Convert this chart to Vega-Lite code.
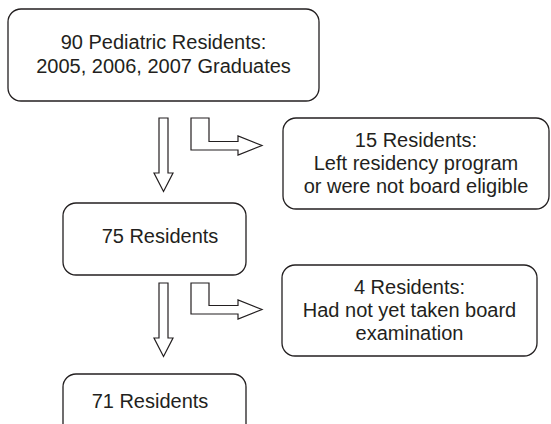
{
  "$schema": "https://vega.github.io/schema/vega-lite/v6.json",
  "width": 551,
  "height": 424,
  "padding": 0,
  "autosize": {"type": "fit", "contains": "padding"},
  "background": "white",
  "config": {"view": {"stroke": null}},
  "datasets": {
    "boxes": [
      {"box": "start", "x0": 8, "x1": 319, "y0": 9, "y1": 101},
      {"box": "excluded1", "x0": 283, "x1": 549, "y0": 118, "y1": 209},
      {"box": "middle", "x0": 63, "x1": 246, "y0": 203, "y1": 275},
      {"box": "excluded2", "x0": 282, "x1": 537, "y0": 265, "y1": 356},
      {"box": "final", "x0": 63, "x1": 246, "y0": 374, "y1": 440}
    ],
    "arrows": [
      {"arrow": "down1", "i": 1, "x": 159, "y": 118},
      {"arrow": "down1", "i": 2, "x": 168, "y": 118},
      {"arrow": "down1", "i": 3, "x": 168, "y": 173},
      {"arrow": "down1", "i": 4, "x": 173, "y": 173},
      {"arrow": "down1", "i": 5, "x": 163.5, "y": 191.5},
      {"arrow": "down1", "i": 6, "x": 154, "y": 173},
      {"arrow": "down1", "i": 7, "x": 159, "y": 173},
      {"arrow": "side1", "i": 1, "x": 191, "y": 118},
      {"arrow": "side1", "i": 2, "x": 209, "y": 118},
      {"arrow": "side1", "i": 3, "x": 209, "y": 141.5},
      {"arrow": "side1", "i": 4, "x": 238, "y": 141.5},
      {"arrow": "side1", "i": 5, "x": 238, "y": 136},
      {"arrow": "side1", "i": 6, "x": 262, "y": 145.5},
      {"arrow": "side1", "i": 7, "x": 238, "y": 155},
      {"arrow": "side1", "i": 8, "x": 238, "y": 150},
      {"arrow": "side1", "i": 9, "x": 191, "y": 150},
      {"arrow": "down2", "i": 1, "x": 159, "y": 283},
      {"arrow": "down2", "i": 2, "x": 168, "y": 283},
      {"arrow": "down2", "i": 3, "x": 168, "y": 338},
      {"arrow": "down2", "i": 4, "x": 173, "y": 338},
      {"arrow": "down2", "i": 5, "x": 163.5, "y": 356.5},
      {"arrow": "down2", "i": 6, "x": 154, "y": 338},
      {"arrow": "down2", "i": 7, "x": 159, "y": 338},
      {"arrow": "side2", "i": 1, "x": 191, "y": 283},
      {"arrow": "side2", "i": 2, "x": 209, "y": 283},
      {"arrow": "side2", "i": 3, "x": 209, "y": 305.5},
      {"arrow": "side2", "i": 4, "x": 238, "y": 305.5},
      {"arrow": "side2", "i": 5, "x": 238, "y": 300},
      {"arrow": "side2", "i": 6, "x": 262, "y": 309.5},
      {"arrow": "side2", "i": 7, "x": 238, "y": 319},
      {"arrow": "side2", "i": 8, "x": 238, "y": 314},
      {"arrow": "side2", "i": 9, "x": 191, "y": 314}
    ],
    "labels": [
      {"text": "90 Pediatric Residents:", "x": 163.5, "y": 43},
      {"text": "2005, 2006, 2007 Graduates", "x": 163.5, "y": 67},
      {"text": "15 Residents:", "x": 416, "y": 141},
      {"text": "Left residency program", "x": 416, "y": 164},
      {"text": "or were not board eligible", "x": 416, "y": 187},
      {"text": "75 Residents", "x": 160, "y": 237},
      {"text": "4 Residents:", "x": 409.5, "y": 288},
      {"text": "Had not yet taken board", "x": 409.5, "y": 311},
      {"text": "examination", "x": 409.5, "y": 334},
      {"text": "71 Residents", "x": 150, "y": 402}
    ]
  },
  "layer": [
    {
      "data": {"name": "boxes"},
      "mark": {"type": "rect", "cornerRadius": 13, "fill": "white", "stroke": "#231f20", "strokeWidth": 1.3, "clip": true},
      "encoding": {
        "x": {"field": "x0", "type": "quantitative", "scale": {"domain": [0, 551], "nice": false, "zero": false}, "axis": null},
        "x2": {"field": "x1"},
        "y": {"field": "y0", "type": "quantitative", "scale": {"domain": [0, 424], "nice": false, "zero": false, "reverse": true}, "axis": null},
        "y2": {"field": "y1"}
      }
    },
    {
      "data": {"name": "arrows"},
      "mark": {"type": "line", "interpolate": "linear-closed", "stroke": "#231f20", "strokeWidth": 1.2, "clip": true},
      "encoding": {
        "x": {"field": "x", "type": "quantitative", "scale": {"domain": [0, 551], "nice": false, "zero": false}, "axis": null},
        "y": {"field": "y", "type": "quantitative", "scale": {"domain": [0, 424], "nice": false, "zero": false, "reverse": true}, "axis": null},
        "detail": {"field": "arrow", "type": "nominal"},
        "order": {"field": "i", "type": "quantitative"}
      }
    },
    {
      "data": {"name": "labels"},
      "mark": {"type": "text", "font": "Liberation Sans", "fontSize": 20, "color": "#231f20", "align": "center", "baseline": "middle"},
      "encoding": {
        "x": {"field": "x", "type": "quantitative", "scale": {"domain": [0, 551], "nice": false, "zero": false}, "axis": null},
        "y": {"field": "y", "type": "quantitative", "scale": {"domain": [0, 424], "nice": false, "zero": false, "reverse": true}, "axis": null},
        "text": {"field": "text", "type": "nominal"}
      }
    }
  ]
}
